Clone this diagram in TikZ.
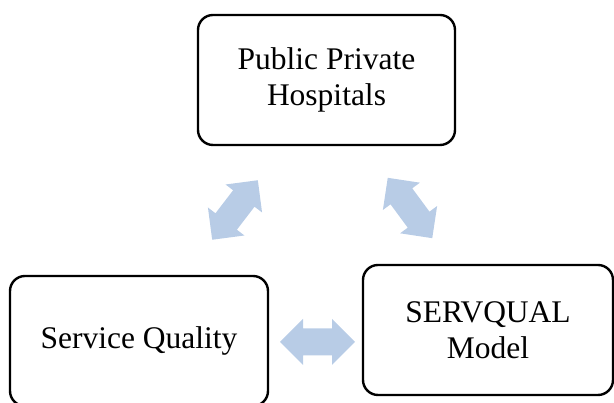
\documentclass[tikz,border=0pt]{standalone}
\usepackage{fontspec}
\setmainfont{Liberation Serif}
\definecolor{arrowblue}{RGB}{184,204,230}
\begin{document}
\begin{tikzpicture}[x=1pt,y=1pt,
  box/.style={draw=black, line width=2.4pt, rounded corners=15pt, fill=white,
    minimum height=130pt, inner sep=0pt, align=center,
    font=\fontsize{31.5}{36}\selectfont},
  dblarrow/.style={fill=arrowblue, draw=none}]
\useasboundingbox (0,0) rectangle (614,403);
\node[box, minimum width=257pt] (hosp) at (326.5,323) {Public Private\\Hospitals};
\node[box, minimum width=258pt] (sq) at (139,62) {Service Quality};
\node[box, minimum width=250pt] (sm) at (488,73) {SERVQUAL\\Model};
\coordinate (a1) at (235,193);
\coordinate (a2) at (410,195);
\coordinate (a3) at (317.5,61);
\foreach \c/\r in {a1/52.5, a2/-53.6, a3/0}{
  \fill[dblarrow, shift={(\c)}, rotate=\r]
    (-37.5,0) -- (-14.5,23) -- (-14.5,13.5) -- (14.5,13.5) -- (14.5,23)
    -- (37.5,0) -- (14.5,-23) -- (14.5,-13.5) -- (-14.5,-13.5) -- (-14.5,-23) -- cycle;
}
\end{tikzpicture}
\end{document}
